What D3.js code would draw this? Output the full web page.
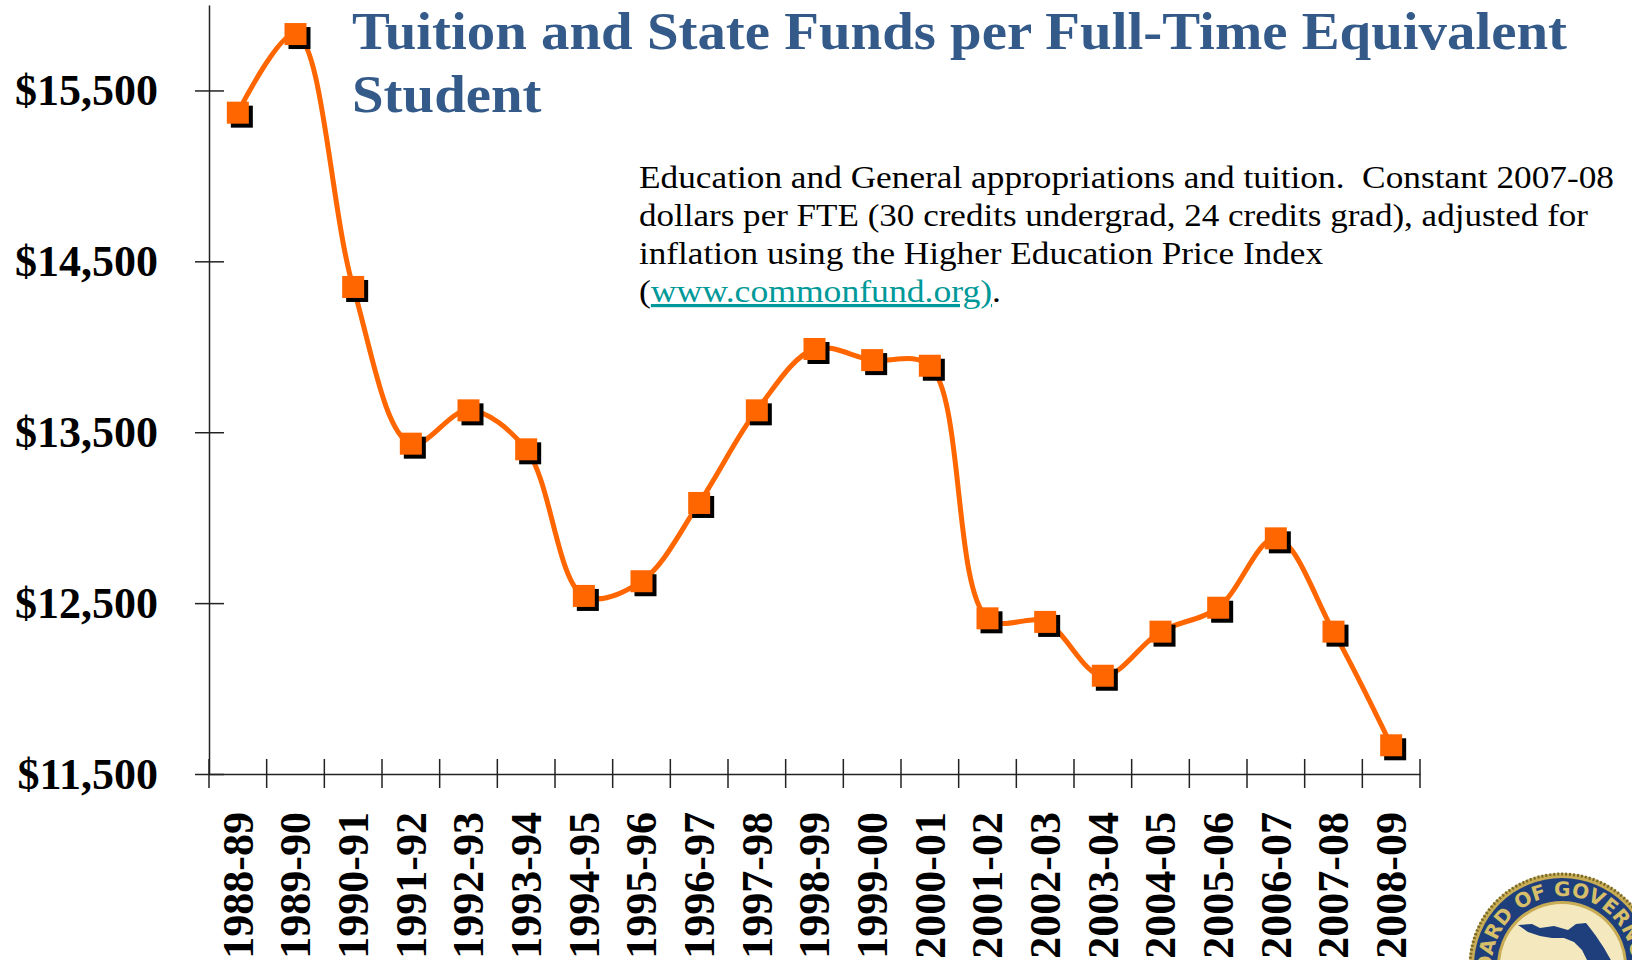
<!DOCTYPE html>
<html>
<head>
<meta charset="utf-8">
<title>Tuition and State Funds per Full-Time Equivalent Student</title>
<script src="https://cdn.jsdelivr.net/npm/d3@7"></script>
<style>
	html, body { margin: 0; padding: 0; background: #fff; }
	svg { display: block; }
</style>
</head>
<body>
<svg id="chart" width="1632" height="960"></svg>
<script>
// Fiscal years on the x axis.
const years = [
	'1988-89', '1989-90', '1990-91', '1991-92', '1992-93', '1993-94', '1994-95',
	'1995-96', '1996-97', '1997-98', '1998-99', '1999-00', '2000-01', '2001-02',
	'2002-03', '2003-04', '2004-05', '2005-06', '2006-07', '2007-08', '2008-09'
];

// Dollars per FTE, constant 2007-08 dollars.
const fundsPerFte = [
	15370, 15830, 14350, 13433, 13628, 13400, 12542,
	12628, 13086, 13628, 13987, 13922, 13889, 12411,
	12390, 12075, 12333, 12473, 12879, 12333, 11668
];

const yTicks = [11500, 12500, 13500, 14500, 15500];

const titleLines = ['Tuition and State Funds per Full-Time Equivalent', 'Student'];

const noteLines = [
	'Education and General appropriations and tuition.  Constant 2007-08',
	'dollars per FTE (30 credits undergrad, 24 credits grad), adjusted for',
	'inflation using the Higher Education Price Index'
];
const noteLink = 'www.commonfund.org)';

const SERIF = '"Palatino Linotype", "Book Antiqua", Palatino, "Liberation Serif", serif';
const ORANGE = '#ff6600';

const svg = d3.select('#chart');

const x = d3.scaleBand().domain(years).range([209, 1420]);
const y = d3.scaleLinear().domain([11500, 16000]).range([774, 5]);

// Stretch a text node so it covers the width seen in the picture.
function fitWidth(sel, width) {
	sel.attr('textLength', width).attr('lengthAdjust', 'spacingAndGlyphs');
}

// Y axis
const yAxis = svg
	.append('g')
	.attr('transform', `translate(${x.range()[0]},0)`)
	.call(d3.axisLeft(y).tickValues(yTicks).tickSize(14).tickSizeOuter(0).tickPadding(37).tickFormat(d => '$' + d3.format(',')(d)));

yAxis.select('.domain').attr('stroke', '#222').attr('stroke-width', 1.5);
yAxis.selectAll('.tick line').attr('x1', 15).attr('x2', -14).attr('stroke', '#222').attr('stroke-width', 1.5);
yAxis
	.selectAll('.tick text')
	.attr('font-family', SERIF)
	.attr('font-weight', 'bold')
	.attr('font-size', 44)
	.attr('fill', '#000');

// X axis: labels at band centres, ticks at band edges.
const xAxis = svg
	.append('g')
	.attr('transform', `translate(0,${y.range()[0]})`)
	.call(d3.axisBottom(x).tickSize(0).tickSizeOuter(0));

xAxis.select('.domain').attr('stroke', '#222').attr('stroke-width', 1.5);
xAxis
	.selectAll('.tick text')
	.attr('font-family', SERIF)
	.attr('font-weight', 'bold')
	.attr('font-size', 44)
	.attr('fill', '#000')
	.attr('text-anchor', 'end')
	.attr('transform', 'rotate(-90)')
	.attr('x', -38)
	.attr('y', 0)
	.attr('dy', '0.34em');

const edges = years.map(d => x(d)).concat([x.range()[1]]);
xAxis
	.selectAll('line.edge')
	.data(edges)
	.join('line')
	.attr('class', 'edge')
	.attr('x1', d => d)
	.attr('x2', d => d)
	.attr('y1', -15)
	.attr('y2', 14)
	.attr('stroke', '#222')
	.attr('stroke-width', 1.5);

// Smoothed series line
const cx = d => x(d) + x.bandwidth() / 2;
const line = d3
	.line()
	.x((d, i) => cx(years[i]))
	.y(d => y(d))
	.curve(d3.curveCatmullRom.alpha(0.5));

svg.append('path').datum(fundsPerFte).attr('d', line).attr('fill', 'none').attr('stroke', ORANGE).attr('stroke-width', 5).attr('stroke-linejoin', 'round');

// Square markers with a small drop shadow.
const size = 22;
const marks = svg.append('g');
marks
	.selectAll('rect.shadow')
	.data(fundsPerFte)
	.join('rect')
	.attr('class', 'shadow')
	.attr('x', (d, i) => cx(years[i]) - size / 2 + 4)
	.attr('y', d => y(d) - size / 2 + 4)
	.attr('width', size)
	.attr('height', size)
	.attr('fill', '#000');
marks
	.selectAll('rect.mark')
	.data(fundsPerFte)
	.join('rect')
	.attr('class', 'mark')
	.attr('x', (d, i) => cx(years[i]) - size / 2)
	.attr('y', d => y(d) - size / 2)
	.attr('width', size)
	.attr('height', size)
	.attr('fill', ORANGE);

// Title
const title = svg.append('g').attr('font-family', SERIF).attr('font-weight', 'bold').attr('font-size', 52).attr('fill', '#345a8a');
const t1 = title.append('text').attr('x', 352).attr('y', 49).text(titleLines[0]);
const t2 = title.append('text').attr('x', 352).attr('y', 112).text(titleLines[1]);
const titleScale = 1215 / t1.node().getComputedTextLength();
fitWidth(t2, t2.node().getComputedTextLength() * titleScale);
fitWidth(t1, 1215);

// Note text
const note = svg.append('g').attr('font-family', SERIF).attr('font-size', 32).attr('fill', '#000');
const noteWidths = [975, 949, 684];
noteLines.forEach((s, i) => {
	const t = note.append('text').attr('xml:space', 'preserve').attr('x', 639).attr('y', 188 + i * 38).text(s);
	fitWidth(t, noteWidths[i]);
});
const last = note.append('text').attr('x', 639).attr('y', 302);
last.append('tspan').text('(');
last.append('tspan').attr('fill', '#009999').attr('text-decoration', 'underline').text(noteLink);
last.append('tspan').text('.');
fitWidth(last, 362);

// Board of Governors seal, cut by the bottom right corner.
const seal = svg.append('g').attr('transform', 'translate(1562,966)');
seal.append('circle').attr('r', 93).attr('fill', '#c9ad55');
seal.append('circle').attr('r', 92).attr('fill', 'none').attr('stroke', '#7a6a2a').attr('stroke-width', 3).attr('stroke-dasharray', '2 2');
seal.append('circle').attr('r', 88).attr('fill', '#1e3f7c');
seal.append('circle').attr('r', 65).attr('fill', '#c9ad55');
seal.append('circle').attr('r', 62).attr('fill', '#f4e8bf');
seal.append('path').attr('id', 'sealArc').attr('d', d3.arc()({ innerRadius: 70, outerRadius: 70, startAngle: -Math.PI * 0.75, endAngle: Math.PI * 0.75 }).split('L')[0]).attr('fill', 'none');
seal
	.append('text')
	.attr('font-family', '"DejaVu Sans", sans-serif')
	.attr('font-weight', 'bold')
	.attr('font-size', 20)
	.attr('fill', '#d7bf6a')
	.append('textPath')
	.attr('href', '#sealArc')
	.attr('startOffset', '5%')
	.text('BOARD OF GOVERNORS');
seal
	.append('path')
	.attr('fill', '#1e3f7c')
	.attr('d', 'M-44,-41 L-30,-42 L-22,-38 L-8,-40 L6,-36 L14,-42 L24,-43 L28,-38 L34,-30 L42,-18 L50,-4 L56,10 L52,24 L40,20 L34,6 L26,-4 L20,-16 L12,-24 L2,-28 L-10,-28 L-22,-30 L-34,-34 Z');
</script>
</body>
</html>
